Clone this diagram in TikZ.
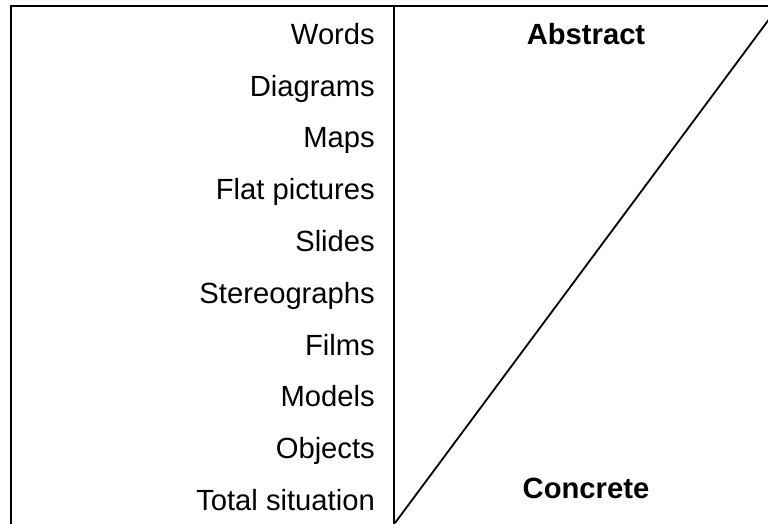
\documentclass[tikz,border=0pt]{standalone}
\usepackage{fontspec}
\setmainfont{Liberation Sans}
\begin{document}
\begin{tikzpicture}[x=1pt,y=-1pt,
  lbl/.style={anchor=base east,inner sep=0pt,font=\fontsize{29.2}{34}\selectfont},
  head/.style={anchor=base,inner sep=0pt,font=\fontsize{29.2}{34}\selectfont\bfseries},
  rule/.style={line width=1.8pt}]
\useasboundingbox (0,0) rectangle (768,523);
\begin{scope}
\clip (0,0) rectangle (768,523);
\coordinate (tl) at (11,6);
\coordinate (tr) at (770,6);
\coordinate (bl) at (11,525);
\coordinate (mt) at (394,6);
\coordinate (mb) at (394,525);
\coordinate (d0) at (395,523);
\coordinate (d1) at (780,4.5);
\draw[rule,line cap=rect] (bl) -- (tl) -- (tr);
\draw[rule] (mt) -- (mb);
\draw[rule] (d0) -- (d1);
\end{scope}
\node[lbl] (w1) at (375,44.3) {Words};
\node[lbl] (w2) at (375,96.1) {Diagrams};
\node[lbl] (w3) at (375,147.9) {Maps};
\node[lbl] (w4) at (375,199.7) {Flat pictures};
\node[lbl] (w5) at (375,251.5) {Slides};
\node[lbl] (w6) at (375,303.3) {Stereographs};
\node[lbl] (w7) at (375,355.1) {Films};
\node[lbl] (w8) at (375,406.9) {Models};
\node[lbl] (w9) at (375,458.7) {Objects};
\node[lbl] (w10) at (375,510.5) {Total situation};
\node[head] (ab) at (586,44.3) {Abstract};
\node[head] (co) at (586,498.3) {Concrete};
\end{tikzpicture}
\end{document}
